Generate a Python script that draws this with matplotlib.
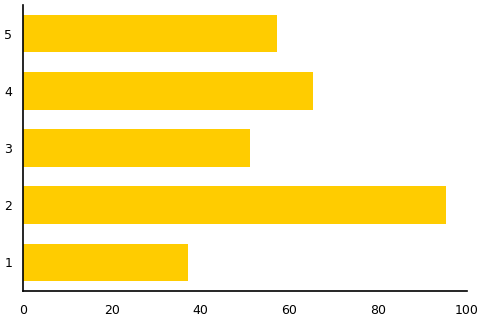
import matplotlib
matplotlib.use("Agg")
import matplotlib.pyplot as plt

categories = [1, 2, 3, 4, 5]
values = [37.2, 95.4, 51.1, 65.4, 57.2]
xticks = [0, 20, 40, 60, 80, 100]

fig = plt.figure(figsize=(4.83, 3.2), dpi=100)
ax = fig.add_axes([23.3/483, 29/320, (466.7-23.3)/483, 286/320])
ax.barh(categories, values, height=0.66, color="#FFCC00")
ax.set_xlim(0, 100)
ax.set_ylim(0.5, 5.5)
ax.set_xticks(xticks)
ax.set_yticks(categories)
ax.set_xticklabels([str(t) for t in xticks])
ax.set_yticklabels([str(c) for c in categories])
ax.tick_params(length=0, labelsize=9, pad=9)
ax.tick_params(axis='y', pad=8)
for s in ["top", "right"]:
    ax.spines[s].set_visible(False)
for s in ["left", "bottom"]:
    ax.spines[s].set_linewidth(1.2)
fig.savefig("out.png", dpi=100)
